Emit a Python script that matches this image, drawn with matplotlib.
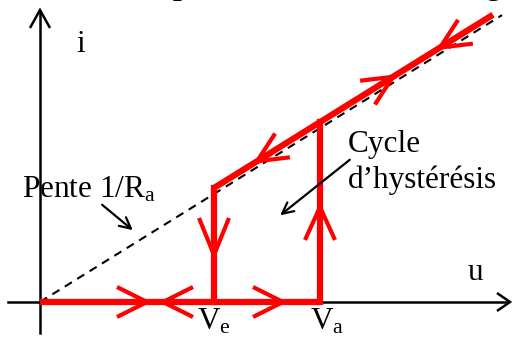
import numpy as np
import matplotlib
matplotlib.use("Agg")
import matplotlib.pyplot as plt

plt.rcParams['font.family'] = ['Liberation Serif', 'DejaVu Serif']
plt.rcParams['mathtext.fontset'] = 'custom'
plt.rcParams['mathtext.rm'] = 'Liberation Serif'
plt.rcParams['mathtext.it'] = 'Liberation Serif'

# thresholds on the u axis and the resistive branch i = slope*u
Ve = 174
Va = 280
slope = 0.621
offset = 6          # red branch drawn just above the dashed line
u_end = 453
u_dash_end = 462

# arrow positions along each branch (u for horizontal / sloped, i for vertical)
low_arrows_u = [107, 123, 243]
low_arrows_dir = [1, -1, 1]
ve_arrow_i = 47
va_arrow_i = 95
up_arrows_u = [217, 353, 400]
up_arrows_dir = [-1, 1, -1]

RED = '#ff0000'


def chevron(ax, tip, d, length=32, half=15, color=RED, lw=3.0):
    d = np.asarray(d, float)
    d = d / np.linalg.norm(d)
    n = np.array([-d[1], d[0]])
    tip = np.asarray(tip, float)
    base = tip - d * length
    a = base + n * half
    b = base - n * half
    ax.plot([a[0], tip[0], b[0]], [a[1], tip[1], b[1]], color=color, lw=lw,
            solid_capstyle='butt', solid_joinstyle='miter')


fig = plt.figure(figsize=(5.12, 3.38), dpi=100)
ax = fig.add_axes([0, 0, 1, 1])
ax.set_xlim(-40, 472)
ax.set_ylim(-36, 302)
ax.axis('off')

# axes
ax.plot([0, 0], [-31, 290], color='black', lw=1.8)
ax.plot([-32, 468], [0, 0], color='black', lw=1.8)
chevron(ax, (0, 292), (0, 1), length=18, half=10, color='black', lw=1.8)
chevron(ax, (470, 0), (1, 0), length=13, half=9, color='black', lw=1.8)

# dashed line slope 1/Ra
ax.plot([0, u_dash_end], [0, slope * u_dash_end], color='black', lw=1.5,
        ls=(0, (4, 3)))

# hysteresis cycle
ax.plot([0, Va], [0, 0], color=RED, lw=4.5, solid_capstyle='butt')
ax.plot([Va, Va], [0, slope * Va + offset], color=RED, lw=4.5)
ax.plot([Ve, Ve], [0, slope * Ve + offset], color=RED, lw=4.5)
ax.plot([Ve, u_end], [slope * Ve + offset, slope * u_end + offset], color=RED,
        lw=4.5, solid_capstyle='butt')

for u, s in zip(low_arrows_u, low_arrows_dir):
    chevron(ax, (u, 0), (s, 0), length=30)
chevron(ax, (Ve, ve_arrow_i), (0, -1), length=37)
chevron(ax, (Va, va_arrow_i), (0, 1), length=33)
for u, s in zip(up_arrows_u, up_arrows_dir):
    chevron(ax, (u, slope * u + offset), (s, s * slope), length=30, half=14)

# labels
fs = 22.5
ax.text(36, 250, 'i', fontsize=fs, va='baseline')
ax.text(428, 22, 'u', fontsize=fs, va='baseline')
ax.text(157, -28, r'V$_{\mathrm{e}}$', fontsize=fs, va='baseline')
ax.text(270, -28, r'V$_{\mathrm{a}}$', fontsize=fs, va='baseline')
ax.text(-18, 105, r'Pente 1/R$_{\mathrm{a}}$', fontsize=fs, va='baseline')
ax.text(308, 150, 'Cycle', fontsize=fs, va='baseline')
ax.text(308, 114, 'd\u2019hystérésis', fontsize=fs, va='baseline')

ax.annotate('', xy=(95, 70), xytext=(60, 99),
            arrowprops=dict(arrowstyle='->,head_length=0.8,head_width=0.4',
                            color='black', lw=1.6))
ax.annotate('', xy=(238, 85), xytext=(312, 144),
            arrowprops=dict(arrowstyle='->,head_length=0.8,head_width=0.4',
                            color='black', lw=1.6))

# title cut off by the top edge, as in the source figure
ax.text(133, 308, 'p', fontsize=fs, fontweight='bold', va='baseline', clip_on=False)
ax.text(445, 308, 'g', fontsize=fs, fontweight='bold', va='baseline', clip_on=False)

fig.savefig('out.png', dpi=100)
